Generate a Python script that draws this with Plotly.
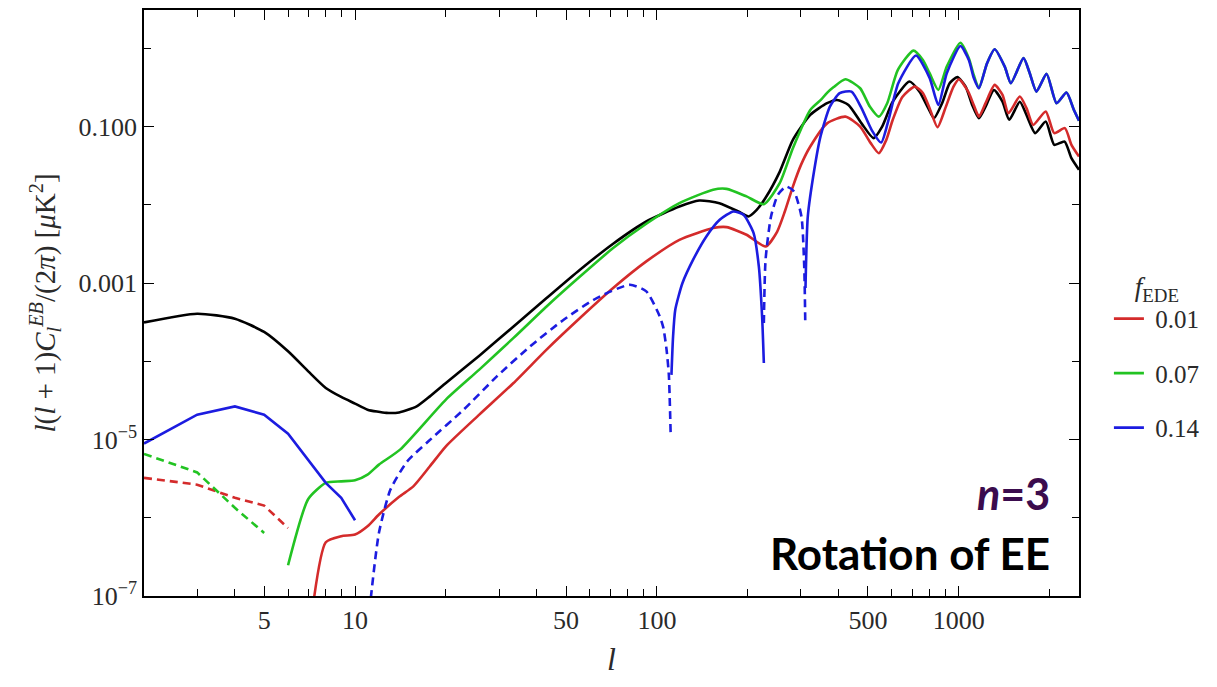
import math
import plotly.graph_objects as go

# EB spectra l(l+1)C_l^EB/(2pi) in uK^2, split where the sign flips (dashed = negative part)

# reference (no EDE) spectrum
black_l = [2, 3, 4, 5, 6, 7, 8, 9, 10, 11, 12.7, 14, 16, 17.7, 20, 25.8, 33.5, 43.1, 55.6, 71.6,
           92.2, 118.7, 138, 161, 186, 201, 214, 229, 255, 282, 322, 366, 395, 431, 476, 522,
           557, 604, 686, 740, 790, 827, 880, 932, 988, 1053, 1107, 1165, 1226, 1307, 1395,
           1468, 1592, 1675, 1790, 1940, 2070, 2240, 2360, 2500]
black_c = [3.14e-4, 4.06e-4, 3.50e-4, 2.37e-4, 1.34e-4, 7.43e-5, 4.56e-5, 3.50e-5, 2.88e-5,
           2.41e-5, 2.19e-5, 2.22e-5, 2.65e-5, 3.56e-5, 5.28e-5, 1.18e-4, 2.79e-4, 6.43e-4,
           1.48e-3, 3.18e-3, 6.12e-3, 9.5e-3, 1.135e-2, 1.05e-2, 8.2e-3, 7.1e-3, 8.6e-3,
           1.23e-2, 2.64e-2, 6.76e-2, 0.141, 0.199, 0.219, 0.189, 0.110, 0.0711, 0.1, 0.208,
           0.376, 0.28, 0.175, 0.128, 0.199, 0.358, 0.428, 0.324, 0.189, 0.128, 0.18, 0.294,
           0.208, 0.122, 0.208, 0.141, 0.0824, 0.116, 0.0584, 0.0643, 0.0394, 0.028]

# f_EDE = 0.01
red_neg_l = [2, 3, 4, 5, 6]
red_neg_c = [3.24e-6, 2.65e-6, 1.80e-6, 1.43e-6, 7.4e-7]
red_l = [7, 8, 9, 10, 11, 12, 14, 15.6, 17.7, 20, 25.8, 33.5, 43.1, 55.6, 71.6, 92.2, 118.7,
         153.5, 170, 198, 229, 250, 265, 282, 300, 322, 366, 421, 471, 510, 543, 575, 604,
         650, 714, 760, 800, 850, 906, 960, 1001, 1074, 1120, 1166, 1226, 1314, 1395, 1460,
         1592, 1675, 1763, 1940, 2070, 2245, 2360, 2500]
red_c = [2.5e-8, 4.86e-7, 5.81e-7, 6.1e-7, 7.78e-7, 1.10e-6, 1.85e-6, 2.52e-6, 4.55e-6, 8.19e-6,
         2.08e-5, 5.28e-5, 1.41e-4, 3.57e-4, 8.63e-4, 1.89e-3, 3.57e-3, 5.04e-3, 5.19e-3,
         4.14e-3, 2.93e-3, 4.52e-3, 8.14e-3, 1.71e-2, 3.24e-2, 5.56e-2, 0.110, 0.134, 0.1,
         0.0619, 0.0457, 0.0676, 0.122, 0.239, 0.324, 0.269, 0.172, 0.098, 0.180, 0.324,
         0.403, 0.280, 0.189, 0.134, 0.199, 0.341, 0.254, 0.148, 0.242, 0.172, 0.105, 0.156,
         0.0824, 0.0955, 0.0584, 0.0414]

# f_EDE = 0.07
green_neg_l = [2, 3, 4, 5]
green_neg_c = [6.55e-6, 3.8e-6, 1.34e-6, 6.4e-7]
green_l = [6, 7, 8, 9, 10, 11, 12, 14.1, 20, 25.8, 33.5, 43.1, 55.6, 71.6, 92.2, 118.7, 153.5,
           170, 198, 226, 255, 282, 322, 349, 366, 385, 421, 471, 507, 543, 579, 628, 707, 760,
           800, 855, 912, 1012, 1079, 1120, 1165, 1240, 1314, 1419, 1487, 1637, 1717, 1807,
           1953, 2107, 2272, 2405, 2500]
green_c = [2.47e-7, 1.74e-6, 2.79e-6, 2.92e-6, 3.01e-6, 3.56e-6, 4.78e-6, 7.43e-6, 3.24e-5,
           7.82e-5, 1.99e-4, 5.02e-4, 1.21e-3, 2.80e-3, 5.72e-3, 1.05e-2, 1.56e-2, 1.60e-2,
           1.28e-2, 1.02e-2, 1.89e-2, 5.3e-2, 0.163, 0.219, 0.27, 0.32, 0.403, 0.309, 0.18,
           0.134, 0.199, 0.530, 0.936, 0.711, 0.481, 0.294, 0.583, 1.18, 0.749, 0.457, 0.309,
           0.646, 0.975, 0.583, 0.358, 0.749, 0.481, 0.28, 0.471, 0.199, 0.272, 0.163, 0.119]

# f_EDE = 0.14
blue_a_l = [2, 3, 4, 5, 6, 7, 8, 9, 10]
blue_a_c = [8.87e-6, 2.08e-5, 2.65e-5, 2.08e-5, 1.19e-5, 5.53e-6, 2.79e-6, 1.80e-6, 9.29e-7]
blue_b_l = [11, 11.3, 12, 13.1, 14.9, 17.5, 22.9, 29.5, 38, 49.1, 63.2, 81.4, 92.2, 102.2,
            105, 107.6, 109.5, 111]
blue_b_c = [3e-8, 1e-7, 6.41e-7, 2.29e-6, 5.27e-6, 9.5e-6, 2.41e-5, 6.41e-5, 1.55e-4, 3.40e-4,
            6.43e-4, 9.5e-4, 7.82e-4, 3.74e-4, 2.69e-4, 1.41e-4, 6.75e-5, 1.21e-5]
blue_c_l = [111.7, 113.1, 115, 121.5, 131.8, 145.8, 161.4, 179, 193.5, 209, 217.5, 223, 226]
blue_c_c = [6.7e-5, 2.08e-4, 4.56e-4, 1.0e-3, 1.99e-3, 3.94e-3, 6.43e-3, 8.22e-3, 7.45e-3,
            4.35e-3, 1.63e-3, 3.74e-4, 9.5e-5]
blue_d_l = [226, 229, 238.7, 251.5, 268, 284.5, 301, 307.5, 310]
blue_d_c = [3.08e-4, 1.99e-3, 7.1e-3, 1.34e-2, 1.71e-2, 1.48e-2, 7.1e-3, 1.63e-3, 2.93e-4]
blue_e_l = [310.5, 316, 332, 348, 374, 403, 441, 476, 514, 553, 585, 630, 721, 800, 855, 912,
            1012, 1079, 1120, 1165, 1240, 1314, 1419, 1487, 1637, 1717, 1807, 1953, 2107, 2272,
            2405, 2500]
blue_e_c = [8.63e-4, 7.1e-3, 2.8e-2, 0.0745, 0.180, 0.267, 0.280, 0.172, 0.0908, 0.0625, 0.122,
            0.358, 0.81, 0.419, 0.189, 0.481, 1.07, 0.711, 0.42, 0.309, 0.646, 0.975, 0.583,
            0.358, 0.749, 0.481, 0.28, 0.471, 0.199, 0.272, 0.163, 0.119]

x_major = [5, 10, 50, 100, 500, 1000]
x_major_text = ["5", "10", "50", "100", "500", "1000"]
x_minor = [3, 4, 6, 7, 8, 9, 20, 30, 40, 60, 70, 80, 90, 200, 300, 400, 600, 700, 800, 900, 2000]
y_major = [1e-7, 1e-5, 1e-3, 1e-1]
y_major_text = ["10<sup>−7</sup>", "10<sup>−5</sup>", "0.001", "0.100"]
y_minor = [1e-6, 1e-4, 1e-2, 1]

RED, GREEN, BLUE, BLACK = "#d42b2b", "#22c322", "#1c1ce0", "#000000"
LW = 2.6
DASH = "8px,5px"
SERIF = "'Liberation Serif', 'DejaVu Serif', serif"
SANS = "Lato, 'Open Sans', sans-serif"
INK = "#2a2a2a"

fig = go.Figure()


def add(l, c, color, dash=None, name=None, group=None, show=False, shape="spline"):
    fig.add_trace(go.Scatter(
        x=l, y=c, mode="lines", name=name, legendgroup=group, showlegend=show,
        line=dict(color=color, width=LW, dash=dash or "solid", shape=shape,
                  smoothing=0.6 if shape == "spline" else None),
        hoverinfo="skip"))


add(black_l, black_c, BLACK)
add(red_l, red_c, RED, name="\u00a00.01", group="r", show=True)
add(red_neg_l, red_neg_c, RED, dash=DASH, group="r", shape="linear")
add(green_l, green_c, GREEN, name="\u00a00.07", group="g", show=True)
add(green_neg_l, green_neg_c, GREEN, dash=DASH, group="g", shape="linear")
add(blue_a_l, blue_a_c, BLUE, name="\u00a00.14", group="b", show=True, shape="linear")
add(blue_b_l, blue_b_c, BLUE, dash=DASH, group="b")
add(blue_c_l, blue_c_c, BLUE, group="b")
add(blue_d_l, blue_d_c, BLUE, dash=DASH, group="b")
add(blue_e_l, blue_e_c, BLUE, group="b")

axis_common = dict(
    type="log", showgrid=False, zeroline=False, showline=True, linecolor="black", linewidth=1.5,
    mirror="ticks", ticks="inside", ticklen=10, tickwidth=1.3, tickcolor="black",
    tickfont=dict(family=SERIF, size=26, color=INK),
)

fig.update_xaxes(
    **axis_common,
    range=[math.log10(2), math.log10(2500)],
    tickmode="array", tickvals=x_major, ticktext=x_major_text,
    minor=dict(tickmode="array", tickvals=x_minor, ticks="inside", ticklen=7, tickwidth=1.2,
               tickcolor="black", showgrid=False),
    title=dict(text="<i>l</i>", font=dict(family=SERIF, size=32, color=INK), standoff=14),
)
fig.update_yaxes(
    **axis_common,
    range=[-7, 0.49],
    tickmode="array", tickvals=y_major, ticktext=y_major_text,
    minor=dict(tickmode="array", tickvals=y_minor, ticks="inside", ticklen=7, tickwidth=1.2,
               tickcolor="black", showgrid=False),
    title=dict(
        text="<i>l</i>(<i>l</i> + 1)<i>C</i><sub><i>l</i></sub><sup><i>EB</i></sup>/(2<i>π</i>) [<i>μ</i>K<sup>2</sup>]",
        font=dict(family=SERIF, size=29, color=INK), standoff=14),
)

fig.add_annotation(x=0.971, y=0.175, xref="paper", yref="paper", xanchor="right",
                   yanchor="middle", showarrow=False,
                   text="<b><i>n</i>=3</b>",
                   font=dict(family=SANS, size=43, color="#3b0c4e"))
fig.add_annotation(x=0.971, y=0.073, xref="paper", yref="paper", xanchor="right",
                   yanchor="middle", showarrow=False,
                   text="<b>Rotation of EE</b>",
                   font=dict(family=SANS, size=44, color="#000000"))

fig.update_layout(
    width=1217, height=687,
    margin=dict(l=144, r=138, t=10, b=91, autoexpand=False),
    plot_bgcolor="white", paper_bgcolor="white",
    font=dict(family=SERIF, size=26, color=INK),
    legend=dict(
        x=1.032, y=0.572, xanchor="left", yanchor="top",
        title=dict(text="<i>f</i><sub>EDE</sub>", side="top center",
                   font=dict(family=SERIF, size=27, color=INK)),
        font=dict(family=SERIF, size=25, color=INK),
        tracegroupgap=19, bgcolor="rgba(0,0,0,0)", itemwidth=30,
    ),
)

fig.write_html("out.html")
